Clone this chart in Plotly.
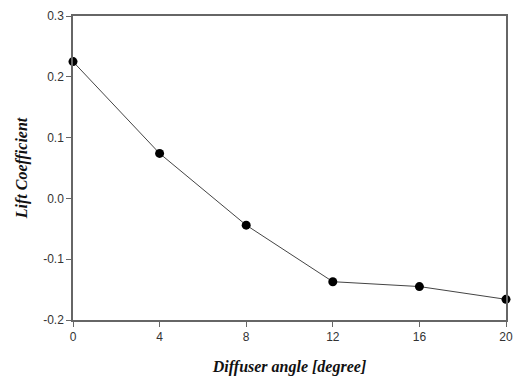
import plotly.graph_objects as go

# Diffuser angle (degrees) and the resulting lift coefficient
diffuser_angle = [0, 4, 8, 12, 16, 20]
lift_coefficient = [0.225, 0.074, -0.044, -0.137, -0.145, -0.166]

x_ticks = [0, 4, 8, 12, 16, 20]
y_ticks = [-0.2, -0.1, 0.0, 0.1, 0.2, 0.3]
y_tick_text = ["-0.2", "-0.1", "0.0", "0.1", "0.2", "0.3"]

fig = go.Figure(
    go.Scatter(
        x=diffuser_angle,
        y=lift_coefficient,
        mode="lines+markers",
        line=dict(color="#444444", width=1),
        marker=dict(color="black", size=9),
        cliponaxis=False,
        showlegend=False,
    )
)

axis_common = dict(
    showline=True,
    linecolor="#666666",
    linewidth=1.5,
    mirror=True,
    ticks="outside",
    ticklen=5,
    tickcolor="#666666",
    tickwidth=1,
    showgrid=False,
    zeroline=False,
    tickfont=dict(family="Liberation Sans, Arial", size=12, color="#333333"),
)

fig.update_xaxes(
    range=[0, 20],
    tickvals=x_ticks,
    title=dict(
        text="<b><i>Diffuser angle [degree]</i></b>",
        font=dict(family="Liberation Serif, Times New Roman", size=16, color="#111111"),
        standoff=18,
    ),
    **axis_common,
)
fig.update_yaxes(
    range=[-0.2, 0.3],
    tickvals=y_ticks,
    ticktext=y_tick_text,
    title=dict(
        text="<b><i>Lift Coefficient</i></b>",
        font=dict(family="Liberation Serif, Times New Roman", size=16, color="#111111"),
        standoff=12,
    ),
    **axis_common,
)

fig.update_layout(
    width=519,
    height=379,
    margin=dict(l=73, r=6, t=16, b=57),
    paper_bgcolor="white",
    plot_bgcolor="white",
)

fig.write_html("out.html")
